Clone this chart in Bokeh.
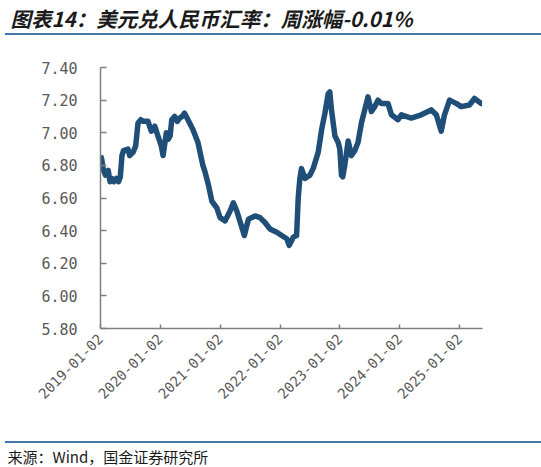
import pandas as pd
from math import pi
from bokeh.plotting import figure
from bokeh.models import (Range1d, FixedTicker, PrintfTickFormatter, ColumnDataSource,
                          DatetimeTickFormatter, Title)
from bokeh.embed import file_html
from bokeh.resources import INLINE

title_text = "图表14：美元兑人民币汇率：周涨幅-0.01%"
source_text = "来源：Wind，国金证券研究所"

dates = [
    "2019-01-02", "2019-01-09", "2019-01-18", "2019-02-01", "2019-02-18", "2019-03-01",
    "2019-03-12", "2019-03-25", "2019-04-09", "2019-04-22", "2019-05-03", "2019-05-13",
    "2019-05-22", "2019-06-19", "2019-06-29", "2019-07-20", "2019-08-05", "2019-08-19",
    "2019-09-05", "2019-09-19", "2019-10-19", "2019-11-08", "2019-11-29", "2019-12-19",
    "2020-01-08", "2020-01-19", "2020-02-08", "2020-02-20", "2020-03-02", "2020-03-12",
    "2020-03-29", "2020-04-15", "2020-04-29", "2020-05-15", "2020-05-29", "2020-06-19",
    "2020-07-19", "2020-08-19", "2020-09-18", "2020-10-01", "2020-10-22", "2020-11-12",
    "2020-12-12", "2021-01-01", "2021-02-01", "2021-03-03", "2021-03-23", "2021-04-13",
    "2021-05-14", "2021-05-29", "2021-06-23", "2021-08-03", "2021-09-02", "2021-10-02",
    "2021-11-02", "2021-12-13", "2022-01-12", "2022-02-12", "2022-02-27", "2022-03-24",
    "2022-04-13", "2022-04-23", "2022-05-03", "2022-05-13", "2022-06-03", "2022-07-03",
    "2022-07-23", "2022-08-23", "2022-09-13", "2022-10-03", "2022-10-23", "2022-11-02",
    "2022-11-12", "2022-12-03", "2022-12-23", "2023-01-02", "2023-01-12", "2023-01-20",
    "2023-02-01", "2023-02-22", "2023-03-14", "2023-04-03", "2023-04-23", "2023-05-14",
    "2023-06-03", "2023-06-23", "2023-07-14", "2023-08-03", "2023-08-23", "2023-09-13",
    "2023-10-23", "2023-11-13", "2023-12-23", "2024-01-13", "2024-03-13", "2024-05-13",
    "2024-07-13", "2024-08-13", "2024-09-12", "2024-10-02", "2024-11-02", "2024-12-12",
    "2025-01-12", "2025-03-03", "2025-04-03", "2025-05-13", "2025-05-20",
]
rates = [
    6.86, 6.84, 6.78, 6.74, 6.77, 6.70,
    6.72, 6.70, 6.72, 6.70, 6.73, 6.86,
    6.89, 6.90, 6.86, 6.88, 6.92, 7.06,
    7.08, 7.07, 7.07, 7.01, 7.04, 6.98,
    6.92, 6.86, 7.00, 6.96, 6.98, 7.08,
    7.10, 7.07, 7.09, 7.10, 7.12, 7.08,
    7.02, 6.94, 6.80, 6.76, 6.68, 6.58,
    6.54, 6.48, 6.46, 6.52, 6.57, 6.52,
    6.42, 6.37, 6.47, 6.49, 6.48, 6.45,
    6.41, 6.39, 6.37, 6.35, 6.31, 6.36,
    6.37, 6.60, 6.72, 6.78, 6.72, 6.74,
    6.78, 6.88, 7.02, 7.12, 7.24, 7.25,
    7.14, 6.98, 6.94, 6.90, 6.74, 6.73,
    6.80, 6.95, 6.86, 6.89, 6.94, 7.06,
    7.14, 7.22, 7.13, 7.16, 7.20, 7.18,
    7.18, 7.11, 7.08, 7.11, 7.09, 7.11,
    7.14, 7.11, 7.01, 7.11, 7.20, 7.18,
    7.16, 7.17, 7.21, 7.18, 7.18,
]
x_tick_labels = ["2019-01-02", "2020-01-02", "2021-01-02", "2022-01-02",
                 "2023-01-02", "2024-01-02", "2025-01-02"]
y_ticks = [5.80, 6.00, 6.20, 6.40, 6.60, 6.80, 7.00, 7.20, 7.40]
x_start = "2019-01-02"
x_end = "2025-05-22"

W, H = 541, 467
B_L, B_R, B_T, B_B = 100, 59, 63, 139
RULE_BLUE = "#4178a8"

t0 = pd.Timestamp(x_start).value / 1e6
t1 = pd.Timestamp(x_end).value / 1e6

src = ColumnDataSource(dict(date=pd.to_datetime(dates), rate=rates))
p = figure(width=W, height=H, x_axis_type="datetime",
           x_range=Range1d(t0, t1), y_range=Range1d(y_ticks[0], y_ticks[-1]),
           toolbar_location=None, output_backend="svg",
           min_border_left=B_L, min_border_right=B_R, min_border_top=B_T, min_border_bottom=B_B,
           outline_line_color=None, border_fill_color=None, background_fill_color="white")
p.line(x="date", y="rate", source=src, line_width=5.5, line_color="#1f4e79", line_join="round")
p.grid.visible = False

tick_ms = [pd.Timestamp(t).value / 1e6 for t in x_tick_labels]
xa = p.xaxis[0]
xa.ticker = FixedTicker(ticks=tick_ms)
xa.formatter = DatetimeTickFormatter(years="%Y-%m-%d", months="%Y-%m-%d", days="%Y-%m-%d")
xa.major_label_overrides = {t: lab for t, lab in zip(tick_ms, x_tick_labels)}
xa.major_label_orientation = pi / 4
xa.major_tick_in = 4
xa.major_tick_out = 0
xa.major_label_standoff = 8
xa.major_label_text_font_size = "14px"

ya = p.yaxis[0]
ya.ticker = FixedTicker(ticks=y_ticks)
ya.formatter = PrintfTickFormatter(format="%.2f")
ya.major_tick_in = 6
ya.major_tick_out = 0
ya.major_label_standoff = 23
ya.major_label_text_font_size = "15px"

for ax in (xa, ya):
    ax.axis_line_color = "#7f7f7f"
    ax.axis_line_width = 1.5
    ax.major_tick_line_color = "#7f7f7f"
    ax.major_tick_line_width = 1.5
    ax.minor_tick_line_color = None
    ax.major_label_text_font = "DejaVu Sans Mono"
    ax.major_label_text_color = "#595959"

# title (above) and source (below); padding order is (left, right, top, bottom)
p.add_layout(Title(text=title_text, align="left", offset=-90, standoff=0,
                   padding=(0, 0, 0, 35),
                   text_font="Noto Sans CJK SC", text_font_style="bold italic",
                   text_font_size="20.5px", text_color="#1a1a1a"), "above")
p.add_layout(Title(text=source_text, align="left", offset=-93, standoff=0,
                   padding=(0, 0, 37, 0),
                   text_font="Noto Sans CJK SC", text_font_style="normal",
                   text_font_size="15px", text_color="#1a1a1a"), "below")

# horizontal rules under the title and above the source (behind the transparent canvas)
p.styles = {
    "background": (f"linear-gradient({RULE_BLUE},{RULE_BLUE}) 5px 33px / 100% 2px no-repeat, "
                   f"linear-gradient({RULE_BLUE},{RULE_BLUE}) 5px 441px / 100% 2px no-repeat, "
                   "white"),
}

open("out.html", "w").write(file_html(p, INLINE))
